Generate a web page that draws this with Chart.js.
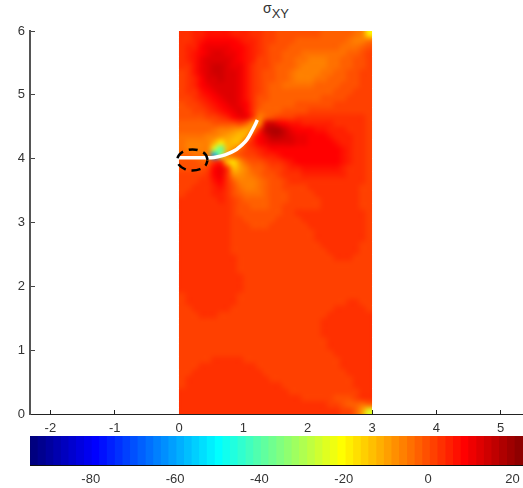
<!DOCTYPE html>
<html>
<head>
<meta charset="utf-8">
<title>sigma XY</title>
<script src="https://cdn.jsdelivr.net/npm/chart.js@4"></script>
<style>
body { margin: 0; background: #fff; }
canvas { position: absolute; left: 0; }
#fieldChart { top: 0; }
#barChart { top: 430px; }
#title { position: absolute; left: 263px; top: 0; font: 14px "Liberation Sans", sans-serif; color: #333; }
#title sub { font-size: 13px; vertical-align: -5px; line-height: 0; }
</style>
</head>
<body>
<div id="title">σ<sub>XY</sub></div>
<canvas id="fieldChart" width="523" height="436"></canvas>
<canvas id="barChart" width="523" height="58"></canvas>
<script>
// cell centres
const xCells = [0.05,0.15,0.25,0.35,0.45,0.55,0.65,0.75,0.85,0.95,1.05,1.15,1.25,1.35,1.45,1.55,1.65,1.75,1.85,1.95,2.05,2.15,2.25,2.35,2.45,2.55,2.65,2.75,2.85,2.95];
const yCells = [5.95,5.85,5.75,5.65,5.55,5.45,5.35,5.25,5.15,5.05,4.95,4.85,4.75,4.65,4.55,4.45,4.35,4.25,4.15,4.05,3.95,3.85,3.75,3.65,3.55,3.45,3.35,3.25,3.15,3.05,2.95,2.85,2.75,2.65,2.55,2.45,2.35,2.25,2.15,2.05,1.95,1.85,1.75,1.65,1.55,1.45,1.35,1.25,1.15,1.05,0.95,0.85,0.75,0.65,0.55,0.45,0.35,0.25,0.15,0.05];

// sigma XY, one row per y
const sigmaRows = [
[3,4,5,6,7,7,7,7,6,6,5,4,3,2,1,0,0,-1,-1,-1,-1,-1,-2,-2,-2,-2,-3,-4,-6,-18],
[3,4,6,7,8,9,9,9,8,7,6,5,3,2,1,0,-1,-1,-2,-2,-2,-2,-2,-2,-3,-3,-4,-5,-6,-4],
[3,5,6,8,10,10,10,10,9,8,7,5,3,2,0,0,-1,-2,-2,-3,-3,-3,-3,-3,-3,-4,-4,-4,-2,0],
[3,5,7,9,11,12,12,11,10,9,7,5,3,1,0,-1,-2,-2,-3,-4,-4,-4,-4,-4,-4,-4,-3,-2,0,1],
[3,5,7,10,12,13,13,12,11,9,7,5,2,1,0,-1,-2,-3,-4,-4,-5,-5,-5,-4,-4,-3,-2,-1,0,1],
[3,4,7,10,13,14,14,13,11,10,7,4,2,1,-1,-2,-3,-3,-4,-5,-5,-5,-5,-4,-4,-3,-2,-1,0,1],
[2,4,7,10,13,14,14,13,12,10,7,4,2,0,-1,-2,-3,-4,-5,-5,-5,-5,-4,-4,-3,-2,-1,0,1,1],
[2,4,6,9,12,13,14,13,12,10,7,4,1,0,-1,-2,-3,-4,-5,-5,-5,-4,-4,-3,-2,-2,-1,0,1,1],
[2,3,5,8,11,12,13,13,12,10,7,4,1,-1,-2,-3,-4,-4,-4,-4,-4,-3,-3,-2,-2,-1,0,0,1,1],
[1,3,4,7,9,11,12,13,12,10,7,3,1,-1,-2,-3,-3,-3,-3,-3,-3,-2,-2,-2,-1,0,0,1,1,1],
[1,2,3,5,7,9,11,12,12,10,7,3,0,-1,-3,-3,-3,-3,-2,-2,-2,-2,-1,-1,0,0,1,1,1,1],
[0,1,2,3,5,7,9,11,12,11,8,3,-1,-2,-3,-3,-2,-2,-1,-1,-1,0,0,0,1,1,1,1,1,1],
[0,0,1,2,3,5,7,9,11,12,9,3,-2,-3,-3,-2,-1,0,0,0,1,1,1,1,1,2,2,2,2,1],
[-1,-1,0,0,1,2,4,6,8,11,11,3,-6,-3,0,1,2,2,3,3,3,3,3,3,3,3,3,3,3,1],
[-2,-2,-2,-2,-2,-1,0,0,0,1,-2,-10,-8,12,14,10,8,7,7,6,6,6,5,5,4,4,3,3,3,1],
[-3,-3,-3,-3,-3,-4,-5,-6,-8,-10,-12,-8,6,16,18,18,14,11,9,8,8,7,7,6,5,5,4,3,3,1],
[-4,-4,-4,-4,-5,-6,-7,-9,-11,-13,-9,3,9,13,16,17,15,13,11,10,9,8,8,7,6,6,5,4,3,2],
[-4,-5,-5,-5,-6,-12,-18,-12,-14,-11,2,6,8,10,12,13,13,12,11,10,9,9,9,8,7,6,5,4,3,2],
[-4,-5,-5,-5,-6,-25,-40,-14,-8,-2,1,4,6,7,8,9,9,9,9,9,9,9,9,8,8,7,5,4,3,2],
[-3,-3,-4,-4,-5,-60,-30,-5,-3,-1,1,2,4,5,6,7,8,9,9,9,9,9,9,8,8,7,5,4,3,2],
[-1,-1,-1,-2,-2,4,6,-14,-16,-7,-3,-1,0,2,3,4,6,7,8,8,8,9,9,8,8,7,5,3,3,2],
[0,0,0,0,2,8,11,3,-14,-9,-5,-3,-2,0,1,2,4,5,6,7,7,7,7,7,7,6,4,3,3,2],
[1,1,1,2,3,8,10,4,-8,-8,-6,-4,-3,-1,0,1,3,4,4,5,6,6,6,6,6,5,3,3,3,2],
[2,2,2,3,4,7,8,4,-3,-6,-6,-5,-4,-2,-1,0,2,3,3,4,4,4,4,4,4,4,3,3,3,2],
[2,2,3,3,4,6,7,4,-1,-4,-5,-5,-4,-3,-1,0,1,1,2,2,3,3,3,3,3,3,3,3,2,2],
[2,3,3,3,4,5,6,4,0,-3,-4,-4,-4,-3,-1,0,0,1,1,2,2,3,3,3,3,3,3,3,2,2],
[3,3,3,3,4,4,5,3,1,-1,-3,-3,-3,-2,-1,0,0,1,1,1,2,2,3,3,3,3,3,3,2,1],
[3,3,3,3,3,4,4,3,1,0,-1,-2,-2,-2,-1,0,1,1,1,1,1,2,3,3,3,3,3,3,2,1],
[3,3,3,3,3,3,3,3,1,-1,-1,-1,-1,-1,-1,-1,1,1,3,3,3,3,3,3,3,3,3,3,3,1],
[3,3,3,3,3,3,3,3,1,1,-1,-1,-1,-1,-1,1,1,1,1,3,3,3,3,3,3,3,3,3,3,1],
[3,3,3,3,3,3,3,3,1,1,1,-1,-1,-1,1,1,1,1,1,1,3,3,3,3,3,3,3,3,3,1],
[3,3,3,3,3,3,3,3,1,1,1,1,1,1,1,1,1,1,1,1,1,3,3,3,3,3,3,3,3,1],
[3,3,3,3,3,3,3,3,1,1,1,1,1,1,1,1,1,1,1,1,1,3,3,3,3,3,3,3,3,1],
[3,3,3,3,3,3,3,3,1,1,1,1,1,1,1,1,1,1,1,1,1,1,3,3,3,3,3,3,1,1],
[3,3,3,3,3,3,3,3,1,1,1,1,1,1,1,1,1,1,1,1,1,1,1,3,3,3,3,3,1,1],
[3,3,3,3,3,3,3,3,3,1,1,1,1,1,1,1,1,1,1,1,1,1,1,1,3,3,3,1,1,1],
[3,3,3,3,3,3,3,3,3,1,1,1,1,1,1,1,1,1,1,1,1,1,1,1,1,1,1,1,1,1],
[3,3,3,3,3,3,3,3,3,1,1,1,1,1,1,1,1,1,1,1,1,1,1,1,1,1,1,1,1,1],
[3,3,3,3,3,3,3,3,3,3,1,1,1,1,1,1,1,1,1,1,1,1,1,1,1,1,1,1,1,1],
[3,3,3,3,3,3,3,3,3,3,1,1,1,1,1,1,1,1,1,1,1,1,1,1,1,1,1,1,1,1],
[3,3,3,3,3,3,3,3,3,3,1,1,1,1,1,1,1,1,1,1,1,1,1,1,1,1,1,1,1,1],
[1,3,3,3,3,3,3,3,3,1,1,1,1,1,1,1,1,1,1,1,1,1,1,1,1,1,1,1,1,1],
[1,3,3,3,3,3,3,3,3,1,1,1,1,1,1,1,1,1,1,1,1,1,1,1,1,1,3,3,1,1],
[1,1,3,3,3,3,3,3,1,1,1,1,1,1,1,1,1,1,1,1,1,1,1,1,3,3,3,3,3,1],
[1,1,1,3,3,3,1,1,1,1,1,1,1,1,1,1,1,1,1,1,1,1,1,3,3,3,3,3,3,3],
[1,1,1,1,1,1,1,1,1,1,1,1,1,1,1,1,1,1,1,1,1,1,3,3,3,3,3,3,3,3],
[1,1,1,1,1,1,1,1,1,1,1,1,1,1,1,1,1,1,1,1,1,1,3,3,3,3,3,3,3,3],
[1,1,1,1,1,1,1,1,1,1,1,1,1,1,1,1,1,1,1,1,1,1,3,3,3,3,3,3,3,3],
[1,1,1,1,1,1,1,1,1,1,1,1,1,1,1,1,1,1,1,1,1,1,1,3,3,3,3,3,3,3],
[1,1,1,1,1,1,1,1,1,1,1,1,1,1,1,1,1,1,1,1,1,1,1,3,3,3,3,3,3,3],
[1,1,1,1,1,1,1,1,1,1,1,1,1,1,1,1,1,1,1,1,1,1,1,1,3,3,3,3,3,3],
[1,1,1,1,1,3,3,3,3,3,1,1,1,1,1,1,1,1,1,1,1,1,1,1,1,3,3,3,3,3],
[1,1,1,3,3,3,3,3,3,3,3,3,1,1,1,1,1,1,1,1,1,1,1,1,1,3,3,3,3,3],
[1,1,3,3,3,3,3,3,3,3,3,3,3,1,1,1,1,1,1,1,1,1,1,1,1,1,3,3,3,3],
[1,3,3,3,3,3,3,3,3,3,3,3,3,3,1,1,1,1,1,1,1,1,1,1,1,1,1,3,3,3],
[1,3,3,3,3,3,3,3,3,3,3,3,3,3,3,3,1,1,1,1,1,1,1,1,1,1,1,3,3,3],
[3,3,3,3,3,3,3,3,3,3,3,3,3,3,3,3,3,1,1,1,1,1,1,1,1,1,1,1,3,3],
[3,3,3,3,3,3,3,3,3,3,3,3,3,3,3,3,3,3,3,1,1,1,1,1,-1,-1,0,1,3,3],
[3,3,3,3,3,3,3,3,3,3,3,3,3,3,3,3,3,3,3,3,3,3,3,1,1,0,-2,-2,-4,-2],
[3,3,3,3,3,3,3,3,3,3,3,3,3,3,3,3,3,3,3,3,3,3,3,3,3,1,1,-3,-10,-24]
];

// crack line and dashed ellipse
const crackX = [0,0.5,0.6,0.715,0.8,0.896,1.05,1.155,1.218];
const crackY = [4.015,4.015,4.03,4.06,4.095,4.146,4.29,4.475,4.605];
const ringX = [0.445,0.414,0.328,0.21,0.092,0.006,-0.025,0.006,0.092,0.21,0.328,0.414,0.445];
const ringY = [3.98,4.063,4.123,4.145,4.123,4.063,3.98,3.897,3.837,3.815,3.837,3.897,3.98];

// colorbar levels
const barLevels = [-93.3,-91.5,-89.6,-87.8,-86.0,-84.2,-82.4,-80.5,-78.7,-76.9,-75.1,-73.2,-71.4,-69.6,-67.8,-65.9,-64.1,-62.3,-60.5,-58.6,-56.8,-55.0,-53.2,-51.4,-49.5,-47.7,-45.9,-44.1,-42.2,-40.4,-38.6,-36.8,-34.9,-33.1,-31.3,-29.5,-27.6,-25.8,-24.0,-22.2,-20.4,-18.5,-16.7,-14.9,-13.1,-11.2,-9.4,-7.6,-5.8,-3.9,-2.1,-0.3,1.5,3.3,5.2,7.0,8.8,10.6,12.5,14.3,16.1,17.9,19.8,21.6];
const barTicks = [-80,-60,-40,-20,0,20];

const colorMin = -94.4;
const colorMax = 22.5;

// jet colormap, 64 steps like the matlab figure
function jet(v) {
    let k = Math.floor((v - colorMin) / (colorMax - colorMin) * 64);
    k = Math.max(0, Math.min(63, k));
    const t = k / 64;
    const clamp = a => Math.max(0, Math.min(1, a));
    const r = clamp(Math.min((t - 0.375) * 4, 1 - (t - 0.875) * 4));
    const g = clamp(Math.min((t - 0.125) * 4, 1 - (t - 0.625) * 4));
    const b = clamp(Math.min(0.5 + t * 4, 1 - (t - 0.375) * 4));
    return 'rgb(' + Math.round(r * 255) + ',' + Math.round(g * 255) + ',' + Math.round(b * 255) + ')';
}

const fieldPoints = [];
const fieldColors = [];
yCells.forEach(function(y, r) {
    xCells.forEach(function(x, c) {
        fieldPoints.push({ x: x, y: y });
        fieldColors.push(jet(sigmaRows[r][c]));
    });
});

// resample the drawn cells so the field looks shaded instead of blocky
const smoothField = {
    id: 'smoothField',
    afterDatasetDraw(chart, args) {
        if (args.index !== 0) return;
        const sx = chart.scales.x, sy = chart.scales.y;
        const left = sx.getPixelForValue(0), right = sx.getPixelForValue(3);
        const top = sy.getPixelForValue(6), bottom = sy.getPixelForValue(0);
        const tmp = document.createElement('canvas');
        tmp.width = xCells.length;
        tmp.height = yCells.length;
        const tctx = tmp.getContext('2d');
        tctx.imageSmoothingEnabled = false;
        tctx.drawImage(chart.canvas, left, top, right - left, bottom - top, 0, 0, tmp.width, tmp.height);
        const ctx = chart.ctx;
        ctx.save();
        ctx.imageSmoothingEnabled = true;
        ctx.imageSmoothingQuality = 'high';
        ctx.drawImage(tmp, left, top, right - left, bottom - top);
        ctx.beginPath();
        ctx.rect(left, top, right - left, bottom - top);
        ctx.clip();
        ctx.filter = 'blur(1.5px)';
        ctx.drawImage(tmp, left, top, right - left, bottom - top);
        ctx.restore();
    }
};

// first and last tick label must not shrink the plot
function noLabelPadding(s) {
    s.paddingLeft = 0;
    s.paddingRight = 0;
}

const axisFont = { family: '"Liberation Sans", sans-serif', size: 13 };
const axisText = '#333';

new Chart(document.getElementById('fieldChart').getContext('2d'), {
    type: 'scatter',
    data: {
        datasets: [
            {
                data: fieldPoints,
                pointStyle: 'rect',
                pointRadius: 4.6,
                pointBorderWidth: 0,
                pointBackgroundColor: fieldColors,
                order: 3
            },
            {
                data: crackX.map((x, i) => ({ x: x, y: crackY[i] })),
                showLine: true,
                borderColor: '#fff',
                borderWidth: 3.5,
                pointRadius: 0,
                tension: 0.3,
                order: 2
            },
            {
                data: ringX.map((x, i) => ({ x: x, y: ringY[i] })),
                showLine: true,
                borderColor: '#000',
                borderWidth: 2.5,
                borderDash: [9, 6],
                pointRadius: 0,
                tension: 0.4,
                order: 1
            }
        ]
    },
    options: {
        responsive: false,
        animation: false,
        events: [],
        layout: { autoPadding: false, padding: { top: 31, left: 0, right: 0, bottom: 0 } },
        plugins: { legend: { display: false }, tooltip: { enabled: false } },
        scales: {
            x: {
                type: 'linear',
                min: -2.316,
                max: 5.347,
                afterFit: s => { s.height = 22; noLabelPadding(s); },
                border: { color: '#222', width: 1 },
                grid: { drawOnChartArea: false, tickLength: -4, tickColor: '#222' },
                ticks: { stepSize: 1, includeBounds: false, maxRotation: 0, padding: 11, color: axisText, font: axisFont }
            },
            y: {
                type: 'linear',
                min: 0,
                max: 6,
                afterFit: s => { s.width = 30; },
                border: { color: '#555', width: 2 },
                grid: { drawOnChartArea: false, tickLength: -5, tickColor: '#444' },
                ticks: { stepSize: 1, padding: 10, color: axisText, font: axisFont }
            }
        }
    },
    plugins: [smoothField]
});

new Chart(document.getElementById('barChart').getContext('2d'), {
    type: 'bar',
    data: {
        datasets: [{
            data: barLevels.map(v => ({ x: v, y: 1 })),
            backgroundColor: barLevels.map(jet),
            borderWidth: 0,
            barPercentage: 1.2,
            categoryPercentage: 1
        }]
    },
    options: {
        responsive: false,
        animation: false,
        events: [],
        layout: { padding: { top: 6, left: 30, right: 0, bottom: 0 } },
        plugins: { legend: { display: false }, tooltip: { enabled: false } },
        scales: {
            x: {
                type: 'linear',
                min: colorMin,
                max: colorMax,
                offset: false,
                afterBuildTicks: s => { s.ticks = barTicks.map(v => ({ value: v })); },
                afterFit: s => { s.height = 23; noLabelPadding(s); },
                border: { color: '#111', width: 1 },
                grid: { drawOnChartArea: false, tickLength: -4, tickColor: '#111' },
                ticks: { maxRotation: 0, padding: 11, color: axisText, font: axisFont }
            },
            xTop: {
                type: 'linear',
                position: 'top',
                min: colorMin,
                max: colorMax,
                afterBuildTicks: s => { s.ticks = barTicks.map(v => ({ value: v })); },
                afterFit: s => { s.height = 0; noLabelPadding(s); },
                border: { color: '#111', width: 1 },
                grid: { drawOnChartArea: false, tickLength: -4, tickColor: '#111' },
                ticks: { display: false }
            },
            y: {
                min: 0,
                max: 1,
                afterFit: s => { s.width = 0; },
                border: { color: '#111', width: 1 },
                grid: { display: false },
                ticks: { display: false }
            }
        }
    }
});
</script>
</body>
</html>
